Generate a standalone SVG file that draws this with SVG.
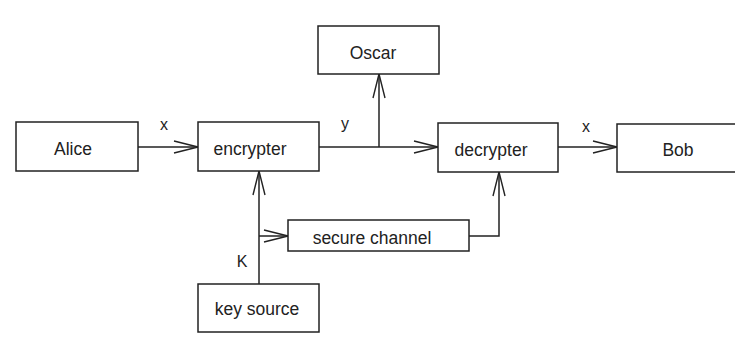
<svg xmlns="http://www.w3.org/2000/svg" width="735" height="339" viewBox="0 0 735 339">
<style>
.box{fill:#fff;stroke:#222;stroke-width:1.5}
.lbl{font-family:"Liberation Sans",Arial,sans-serif;font-size:17.5px;fill:#222;text-anchor:middle}
.sm{font-family:"Liberation Sans",Arial,sans-serif;font-size:16px;fill:#222;text-anchor:middle}
.wire{fill:none;stroke:#222;stroke-width:1.5}
</style>
<defs>
<marker id="ah" markerUnits="userSpaceOnUse" markerWidth="30" markerHeight="16" viewBox="-26 -8 30 16" refX="0" refY="0" orient="auto">
<path d="M-24,-6 L0,0 L-24,6" fill="none" stroke="#222" stroke-width="1.4"/>
</marker>
</defs>
<rect width="735" height="339" fill="#fff"/>
<g id="connectors">
<path class="wire" d="M138,147 H198" marker-end="url(#ah)"/>
<path class="wire" d="M319,147 H438" marker-end="url(#ah)"/>
<path class="wire" d="M379,147 V74" marker-end="url(#ah)"/>
<path class="wire" d="M558,147 H617" marker-end="url(#ah)"/>
<path class="wire" d="M259,284 V171" marker-end="url(#ah)"/>
<path class="wire" d="M259,236 H288" marker-end="url(#ah)"/>
<path class="wire" d="M469,236 H499 V172" marker-end="url(#ah)"/>
<text class="sm" x="164" y="130">x</text>
<text class="sm" x="345" y="129">y</text>
<text class="sm" x="586" y="132">x</text>
<text class="sm" x="242" y="267">K</text>
</g>
<g id="alice"><rect class="box" x="16" y="122" width="122" height="49"/><text class="lbl" x="73" y="155">Alice</text></g>
<g id="encrypter"><rect class="box" x="198" y="122" width="121" height="49"/><text class="lbl" x="250" y="155">encrypter</text></g>
<g id="oscar"><rect class="box" x="318" y="26" width="121" height="48"/><text class="lbl" x="373" y="59">Oscar</text></g>
<g id="decrypter"><rect class="box" x="438" y="123" width="120" height="49"/><text class="lbl" x="491" y="156">decrypter</text></g>
<g id="bob"><rect class="box" x="617" y="124" width="140" height="48"/><text class="lbl" x="678" y="156">Bob</text></g>
<g id="secure-channel"><rect class="box" x="288" y="220" width="181" height="31"/><text class="lbl" x="372" y="244">secure channel</text></g>
<g id="key-source"><rect class="box" x="198" y="284" width="121" height="48"/><text class="lbl" x="257" y="315">key source</text></g>
</svg>
